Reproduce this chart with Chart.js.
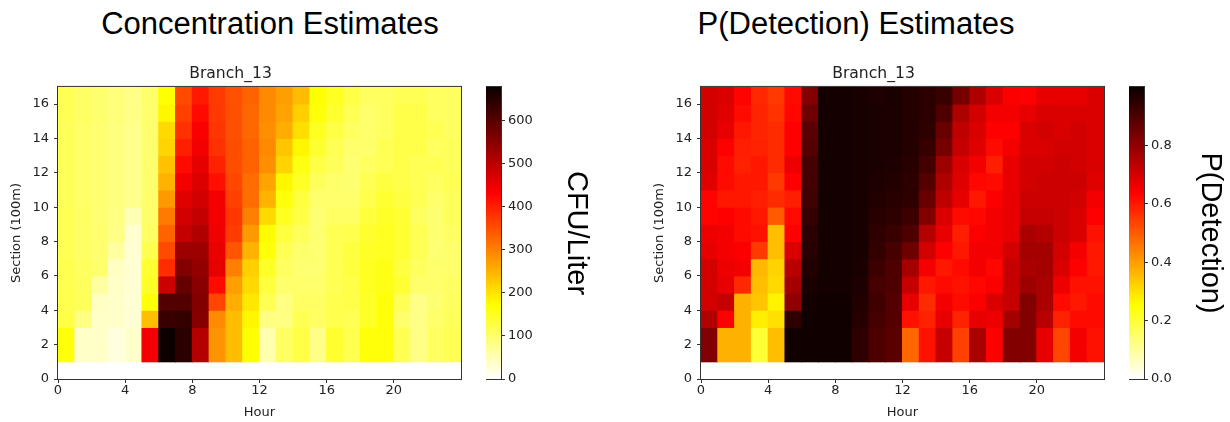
<!DOCTYPE html>
<html>
<head>
<meta charset="utf-8">
<title>Branch_13 estimates</title>
<script src="https://cdn.jsdelivr.net/npm/chart.js@4/dist/chart.umd.min.js"></script>
<style>
  body { margin: 0; background: #fff; width: 1230px; height: 422px; overflow: hidden; position: relative; }
  canvas { position: absolute; }
  .big { position: absolute; top: 7px; width: 420px; text-align: center; font-family: "Liberation Sans", Arial, sans-serif; font-size: 31px; line-height: 34px; color: #000; }
</style>
</head>
<body>
<div class="big" style="left:60px">Concentration Estimates</div>
<div class="big" style="left:646px">P(Detection) Estimates</div>
<canvas id="heatConc" width="470" height="370" style="left:0px;top:52px"></canvas>
<canvas id="barConc" width="110" height="370" style="left:486px;top:52px"></canvas>
<canvas id="heatDet" width="470" height="370" style="left:643px;top:52px"></canvas>
<canvas id="barDet" width="101" height="370" style="left:1129px;top:52px"></canvas>
<script>
// grid: hourly columns, 100 m sections (rows listed top to bottom)
const hours = [0, 1, 2, 3, 4, 5, 6, 7, 8, 9, 10, 11, 12, 13, 14, 15, 16, 17, 18, 19, 20, 21, 22, 23];
const sections = [16, 15, 14, 13, 12, 11, 10, 9, 8, 7, 6, 5, 4, 3, 2, 1];
const branchName = 'Branch_13';

const hourTicks = [0, 4, 8, 12, 16, 20];
const sectionTicks = [0, 2, 4, 6, 8, 10, 12, 14, 16];
const concentrationTicks = [0, 100, 200, 300, 400, 500, 600];
const detectionTicks = [0, 0.2, 0.4, 0.6, 0.8];
const concentrationMax = 677;
const detectionMax = 1.0;

// CFU/Liter, one row per section
const concentration = [
  [115, 105, 98, 88, 80, 100, 170, 355, 405, 370, 348, 330, 290, 270, 240, 170, 150, 125, 108, 108, 115, 115, 108, 108],
  [115, 105, 98, 88, 80, 98, 180, 365, 420, 372, 350, 325, 290, 265, 220, 165, 140, 115, 100, 108, 122, 122, 108, 108],
  [112, 102, 96, 86, 78, 98, 210, 380, 435, 375, 350, 325, 285, 255, 205, 150, 125, 108, 100, 108, 122, 122, 115, 108],
  [112, 102, 96, 86, 78, 98, 215, 400, 440, 380, 352, 330, 290, 230, 180, 140, 115, 100, 100, 115, 122, 122, 108, 110],
  [112, 102, 96, 86, 78, 98, 235, 420, 455, 395, 352, 330, 285, 215, 160, 125, 110, 95, 108, 115, 122, 115, 115, 110],
  [112, 102, 96, 86, 78, 98, 250, 440, 465, 415, 358, 320, 265, 180, 145, 110, 100, 95, 115, 128, 122, 115, 108, 115],
  [112, 102, 96, 86, 78, 100, 275, 460, 475, 440, 365, 320, 250, 165, 130, 100, 100, 100, 120, 138, 128, 115, 100, 110],
  [115, 105, 96, 84, 50, 100, 305, 475, 490, 440, 375, 300, 210, 150, 125, 95, 105, 105, 130, 145, 138, 108, 95, 110],
  [115, 105, 98, 82, 32, 105, 330, 490, 510, 445, 370, 275, 175, 130, 110, 95, 115, 120, 140, 150, 138, 115, 95, 105],
  [115, 105, 98, 65, 30, 120, 355, 530, 530, 450, 345, 250, 165, 115, 100, 95, 115, 128, 145, 150, 138, 115, 95, 100],
  [118, 108, 100, 40, 30, 138, 385, 555, 540, 455, 300, 220, 145, 108, 95, 95, 115, 128, 150, 158, 128, 108, 100, 100],
  [118, 110, 65, 38, 30, 145, 480, 585, 548, 420, 270, 210, 130, 100, 100, 100, 115, 122, 150, 158, 138, 100, 100, 105],
  [120, 112, 40, 36, 30, 165, 605, 605, 555, 360, 255, 195, 115, 85, 105, 105, 120, 122, 145, 165, 115, 80, 95, 108],
  [125, 85, 38, 36, 30, 238, 630, 635, 552, 290, 240, 180, 85, 85, 115, 105, 120, 115, 145, 165, 100, 80, 100, 110],
  [165, 38, 38, 22, 35, 440, 675, 645, 505, 280, 240, 170, 55, 105, 125, 80, 140, 118, 165, 165, 115, 82, 108, 115],
  [165, 38, 38, 22, 35, 440, 675, 645, 505, 280, 240, 170, 55, 105, 125, 80, 140, 118, 165, 165, 115, 82, 108, 115]
];

// probability of detection, one row per section
const detection = [
  [.70, .69, .63, .575, .55, .62, .82, .985, .985, .98, .97, .975, .96, .95, .93, .84, .755, .69, .64, .635, .67, .67, .67, .69],
  [.70, .68, .62, .58, .56, .625, .85, .985, .985, .98, .975, .975, .96, .95, .90, .755, .70, .65, .65, .67, .69, .69, .69, .69],
  [.70, .67, .60, .58, .57, .635, .88, .985, .985, .98, .975, .975, .96, .945, .86, .73, .69, .635, .635, .69, .70, .69, .70, .69],
  [.69, .635, .59, .585, .57, .635, .89, .985, .985, .98, .975, .975, .96, .935, .84, .72, .68, .62, .65, .69, .69, .70, .70, .69],
  [.69, .62, .585, .60, .57, .66, .91, .985, .985, .98, .975, .97, .955, .915, .78, .69, .65, .59, .67, .70, .70, .71, .70, .69],
  [.68, .62, .60, .60, .55, .635, .915, .985, .985, .98, .97, .965, .95, .89, .755, .68, .625, .62, .67, .70, .71, .71, .71, .68],
  [.63, .60, .60, .59, .57, .59, .92, .985, .985, .98, .965, .955, .945, .86, .73, .67, .60, .64, .67, .71, .71, .71, .70, .65],
  [.63, .635, .62, .60, .50, .62, .935, .985, .985, .98, .955, .945, .925, .82, .69, .62, .625, .65, .67, .72, .72, .71, .69, .635],
  [.66, .65, .62, .61, .35, .635, .95, .985, .985, .98, .945, .93, .90, .745, .67, .59, .64, .65, .67, .76, .745, .71, .69, .61],
  [.67, .65, .64, .55, .35, .69, .955, .985, .985, .98, .94, .91, .85, .70, .635, .60, .65, .65, .70, .77, .77, .70, .65, .60],
  [.70, .66, .65, .36, .32, .74, .965, .985, .985, .975, .925, .90, .77, .65, .60, .62, .65, .625, .72, .76, .77, .69, .635, .60],
  [.70, .67, .575, .35, .31, .77, .975, .985, .985, .97, .91, .90, .72, .60, .62, .61, .625, .64, .72, .78, .76, .66, .61, .61],
  [.70, .72, .37, .34, .27, .80, .985, .99, .99, .965, .92, .89, .67, .57, .65, .62, .64, .69, .72, .82, .76, .62, .60, .62],
  [.75, .635, .37, .28, .30, .945, .99, .99, .99, .96, .91, .89, .61, .585, .67, .585, .67, .66, .77, .82, .74, .585, .62, .62],
  [.82, .37, .37, .20, .35, .99, .99, .99, .99, .945, .90, .88, .48, .61, .72, .54, .76, .635, .82, .82, .67, .53, .65, .61],
  [.82, .37, .37, .20, .35, .99, .99, .99, .99, .945, .90, .88, .48, .61, .72, .54, .76, .635, .82, .82, .67, .53, .65, .61]
];

Chart.defaults.font.family = '"DejaVu Sans", sans-serif';
Chart.defaults.font.size = 13;
Chart.defaults.color = '#222';

// reversed "hot" colour map: white -> yellow -> red -> black
function hotR(v, vmax) {
  const x = 1 - Math.min(Math.max(v / vmax, 0), 1);
  const clamp = t => Math.min(Math.max(t, 0), 1);
  const r = 0.0416 + (1 - 0.0416) * clamp(x / 0.365079);
  const g = clamp((x - 0.365079) / (0.746032 - 0.365079));
  const b = clamp((x - 0.746032) / (1 - 0.746032));
  return `rgb(${Math.round(r * 255)},${Math.round(g * 255)},${Math.round(b * 255)})`;
}

// box around the plot area
const frame = {
  id: 'frame',
  afterDatasetsDraw(chart) {
    const { ctx, chartArea: a } = chart;
    ctx.save();
    ctx.strokeStyle = '#333';
    ctx.lineWidth = 1;
    ctx.strokeRect(a.left - 0.5, a.top - 0.5, a.width + 1, a.height + 1);
    ctx.restore();
  }
};

const tickGrid = { display: true, drawOnChartArea: false, drawTicks: true, tickLength: 4, color: '#333', offset: false };

function heatmapChart(id, values, vmax) {
  const datasets = sections.map((sec, i) => ({
    data: hours.map(h => ({ x: h + 0.5, y: [sec, sec + 1] })),
    backgroundColor: values[i].map(v => hotR(v, vmax)),
    borderWidth: 0,
    inflateAmount: 0.5,
    grouped: false,
    categoryPercentage: 1,
    barPercentage: 1
  }));
  return new Chart(document.getElementById(id), {
    type: 'bar',
    data: { datasets },
    options: {
      responsive: false,
      animation: false,
      events: [],
      layout: { padding: { top: 0, right: 9, bottom: 0, left: 0 } },
      plugins: {
        legend: { display: false },
        tooltip: { enabled: false },
        title: {
          display: true,
          text: branchName,
          color: '#222',
          font: { size: 15.6, weight: 'normal' },
          padding: { top: 12.6, bottom: 3.6 }
        }
      },
      scales: {
        x: {
          type: 'linear',
          min: 0,
          max: 24,
          offset: false,
          afterBuildTicks: s => { s.ticks = hourTicks.map(v => ({ value: v })); },
          afterFit: s => { s.height = 43; },
          grid: tickGrid,
          border: { display: false },
          ticks: { padding: 0, maxRotation: 0 },
          title: { display: true, text: 'Hour', padding: { top: 0, bottom: 2 } }
        },
        y: {
          type: 'linear',
          min: 0,
          max: 17,
          afterBuildTicks: s => { s.ticks = sectionTicks.map(v => ({ value: v })); },
          afterFit: s => { s.width = 58; },
          grid: tickGrid,
          border: { display: false },
          ticks: { padding: 5 },
          title: { display: true, text: 'Section (100m)', padding: { top: 9, bottom: 0 } }
        }
      }
    },
    plugins: [frame]
  });
}

function colorbarChart(id, vmax, tickValues, label, width, format) {
  // vertical gradient running along the value scale
  const gradient = chart => {
    const y = chart.scales.y;
    if (!y) return '#fff';
    const y0 = y.getPixelForValue(0);
    const y1 = y.getPixelForValue(vmax);
    if (!isFinite(y0) || !isFinite(y1) || y0 === y1) return '#fff';
    const g = chart.ctx.createLinearGradient(0, y0, 0, y1);
    for (let k = 0; k <= 64; k++) g.addColorStop(k / 64, hotR(k / 64 * vmax, vmax));
    return g;
  };
  return new Chart(document.getElementById(id), {
    type: 'bar',
    data: {
      labels: [''],
      datasets: [{
        data: [[0, vmax]],
        backgroundColor: c => gradient(c.chart),
        borderWidth: 0,
        categoryPercentage: 1,
        barPercentage: 1
      }]
    },
    options: {
      responsive: false,
      animation: false,
      events: [],
      layout: { padding: { top: 35, right: 0, bottom: 43, left: 0 } },
      plugins: { legend: { display: false }, tooltip: { enabled: false } },
      scales: {
        x: { display: false },
        y: {
          position: 'right',
          min: 0,
          max: vmax,
          afterBuildTicks: s => { s.ticks = tickValues.map(v => ({ value: v })); },
          afterFit: s => { s.width = width - 15; },
          grid: tickGrid,
          border: { display: false },
          ticks: { padding: 3, callback: format },
          title: {
            display: true,
            text: label,
            color: '#000',
            font: { family: '"Liberation Sans", Arial, sans-serif', size: 29 },
            padding: { top: 3, bottom: 0 }
          }
        }
      }
    },
    plugins: [frame]
  });
}

heatmapChart('heatConc', concentration, concentrationMax);
colorbarChart('barConc', concentrationMax, concentrationTicks, 'CFU/Liter', 110, v => String(v));
heatmapChart('heatDet', detection, detectionMax);
colorbarChart('barDet', detectionMax, detectionTicks, 'P(Detection)', 101, v => v.toFixed(1));
</script>
</body>
</html>
